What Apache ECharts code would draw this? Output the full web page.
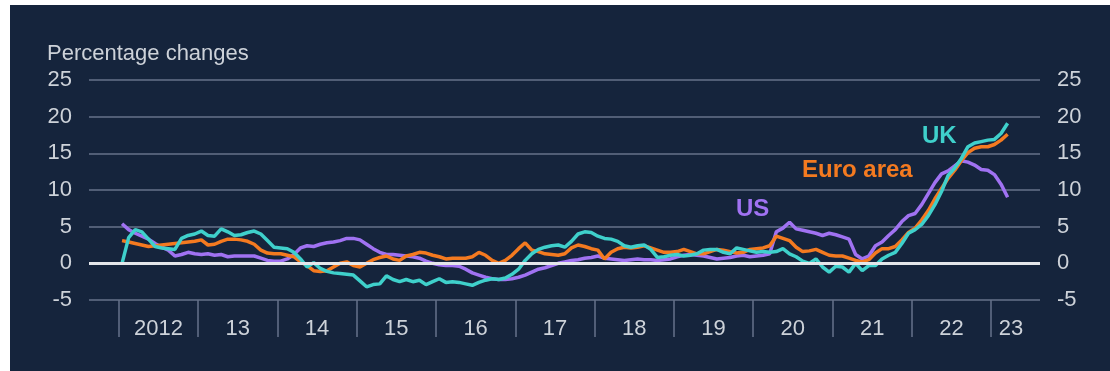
<!DOCTYPE html>
<html>
<head>
<meta charset="utf-8">
<script src="https://cdn.jsdelivr.net/npm/echarts@6/dist/echarts.min.js"></script>
<style>
  html, body { margin: 0; padding: 0; background: #ffffff; }
  #chart { position: absolute; left: 10px; top: 5px; width: 1100px; height: 366px; background: #15243c; }
</style>
</head>
<body>
<div id="chart"></div>
<script>
// monthly food price inflation, Jan 2012 .. Mar 2023
var yearLabels = ['2012', '13', '14', '15', '16', '17', '18', '19', '20', '21', '22', '23'];

var usData = [
  5.4, 4.6, 4.1, 3.7, 3.3, 2.7, 2.2, 1.8, 1.0, 1.2, 1.5, 1.3,
  1.2, 1.3, 1.1, 1.2, 0.9, 1.0, 1.0, 1.0, 1.0, 0.7, 0.4, 0.3,
  0.3, 0.6, 1.2, 2.1, 2.4, 2.3, 2.6, 2.8, 2.9, 3.1, 3.4, 3.4,
  3.2, 2.6, 2.0, 1.5, 1.2, 1.2, 1.1, 1.0, 0.9, 0.7, 0.3, 0.0,
  -0.2, -0.3, -0.3, -0.4, -0.8, -1.3, -1.6, -1.9, -2.1, -2.2, -2.2, -2.1,
  -1.9, -1.6, -1.2, -0.8, -0.6, -0.3, 0.0, 0.2, 0.4, 0.5, 0.7, 0.8,
  1.0, 0.7, 0.6, 0.5, 0.4, 0.5, 0.6, 0.5, 0.5, 0.4, 0.5, 0.6,
  0.9, 1.1, 1.2, 1.1, 1.0, 0.8, 0.6, 0.7, 0.8, 1.0, 1.1, 0.9,
  1.0, 1.1, 1.3, 4.3, 4.8, 5.6, 4.7, 4.5, 4.3, 4.1, 3.8, 4.1,
  3.9, 3.6, 3.3, 1.2, 0.6, 1.0, 2.4, 2.9, 3.8, 4.6, 5.7, 6.5,
  6.8, 8.0, 9.5, 11.0, 12.2, 12.6, 13.3, 14.0, 13.8, 13.4, 12.8, 12.7,
  12.1, 10.8, 9.0
];

var euroData = [
  3.1, 2.9, 2.7, 2.5, 2.3, 2.4, 2.5, 2.6, 2.7, 2.8, 2.9, 3.0,
  3.2, 2.5, 2.6, 3.0, 3.3, 3.3, 3.2, 3.0, 2.6, 1.8, 1.4, 1.3,
  1.3, 1.1, 0.9, 0.2, -0.3, -1.0, -1.1, -1.0, -0.5, 0.0, 0.2, -0.3,
  -0.5, 0.0, 0.5, 0.8, 1.0, 0.6, 0.4, 1.0, 1.2, 1.5, 1.4, 1.1,
  0.9, 0.6, 0.7, 0.7, 0.7, 0.9, 1.5, 1.1, 0.4, 0.0, 0.4, 1.1,
  2.0, 2.8, 1.8, 1.6, 1.3, 1.2, 1.1, 1.3, 2.1, 2.5, 2.3, 2.0,
  1.8, 0.6, 1.5, 2.0, 2.2, 2.1, 2.2, 2.4, 2.1, 1.8, 1.5, 1.5,
  1.6, 1.9, 1.6, 1.3, 1.3, 1.6, 1.9, 1.8, 1.6, 1.4, 1.5, 1.9,
  2.0, 2.1, 2.4, 3.7, 3.4, 3.1, 2.2, 1.6, 1.7, 1.9, 1.5, 1.1,
  1.0, 1.0, 0.7, 0.4, 0.2, 0.5, 1.4, 2.0, 2.0, 2.3, 3.2, 4.2,
  4.8, 5.9, 7.2, 8.8, 10.2, 11.6, 12.7, 14.0, 15.1, 15.7, 15.9, 15.9,
  16.2, 16.8, 17.6
];

var ukData = [
  0.0, 3.5, 4.6, 4.3, 3.3, 2.3, 2.1, 2.0, 1.9, 3.4, 3.8, 4.0,
  4.4, 3.8, 3.7, 4.7, 4.3, 3.8, 3.9, 4.2, 4.4, 4.0, 3.1, 2.2,
  2.1, 2.0, 1.5, 0.6, -0.5, 0.1, -0.7, -1.1, -1.3, -1.4, -1.5, -1.6,
  -2.4, -3.2, -2.9, -2.8, -1.7, -2.2, -2.5, -2.2, -2.5, -2.3, -2.9, -2.5,
  -2.1, -2.6, -2.5, -2.6, -2.8, -3.0, -2.6, -2.3, -2.1, -2.2, -2.0, -1.5,
  -0.8, 0.4, 1.3, 1.9, 2.2, 2.4, 2.5, 2.2, 3.0, 4.0, 4.3, 4.2,
  3.7, 3.4, 3.3, 3.0, 2.4, 2.2, 2.4, 2.5, 1.9, 0.8, 0.9, 1.1,
  1.2, 1.0, 1.1, 1.3, 1.8, 1.9, 1.9, 1.5, 1.3, 2.1, 1.9, 1.7,
  1.5, 1.6, 1.5, 1.6, 2.0, 1.3, 0.9, 0.3, 0.0, 0.6, -0.5, -1.2,
  -0.4, -0.5, -1.2, 0.0, -1.0, -0.3, -0.3, 0.6, 1.1, 1.5, 2.7, 4.1,
  4.6, 5.3, 6.5, 8.0, 9.8, 12.0, 13.0, 14.3, 15.9, 16.4, 16.6, 16.8,
  16.9, 17.7, 19.1
];

var textColor = '#cdd2d9';
var gridColor = '#66728a';
var fontFamily = '"Liberation Sans", Arial, sans-serif';

// x is months since Jan 2012, each point in the middle of its month
function toPoints(arr) {
  return arr.map(function (v, i) { return [i + 0.5, v]; });
}

var tickValues = yearLabels.map(function (_, k) { return k * 12; });
var labelValues = yearLabels.map(function (_, k) {
  return k < yearLabels.length - 1 ? k * 12 + 6 : k * 12 + 3;
});

var chart = echarts.init(document.getElementById('chart'));

function yAxisBase(pos) {
  return {
    type: 'value',
    position: pos,
    min: -5,
    max: 25,
    interval: 5,
    axisLine: { show: false },
    axisTick: { show: false },
    axisLabel: { color: textColor, fontSize: 22, fontFamily: fontFamily, margin: 17 },
    splitLine: { show: pos === 'left', lineStyle: { color: gridColor, width: 1.5 } }
  };
}

var option = {
  animation: false,
  grid: { left: 79, right: 70, top: 75, bottom: 71 },
  xAxis: {
    type: 'value',
    min: -4.5,
    max: 139.4,
    splitLine: { show: false },
    axisLine: { show: false, onZero: false },
    axisTick: {
      show: true,
      customValues: tickValues,
      length: 37,
      lineStyle: { color: gridColor, width: 1.5 }
    },
    axisLabel: {
      customValues: labelValues,
      color: textColor,
      fontSize: 22,
      fontFamily: fontFamily,
      margin: 18,
      formatter: function (v) { return yearLabels[Math.floor(v / 12)]; }
    }
  },
  yAxis: [yAxisBase('left'), yAxisBase('right')],
  graphic: [
    { type: 'text', left: 37, top: 38,
      style: { text: 'Percentage changes', fill: textColor, font: '22px ' + fontFamily } },
    { type: 'text', left: 912, top: 119,
      style: { text: 'UK', fill: '#3fd0cb', font: 'bold 24px ' + fontFamily } },
    { type: 'text', left: 792, top: 153,
      style: { text: 'Euro area', fill: '#f47a20', font: 'bold 24px ' + fontFamily } },
    { type: 'text', left: 726, top: 192,
      style: { text: 'US', fill: '#a072f2', font: 'bold 24px ' + fontFamily } }
  ],
  series: [
    {
      name: 'US', type: 'line', showSymbol: false, data: toPoints(usData),
      lineStyle: { color: '#a072f2', width: 3.5 },
      markLine: {
        silent: true, symbol: 'none', label: { show: false },
        lineStyle: { color: '#e4e6ea', width: 3, type: 'solid' },
        data: [{ yAxis: 0 }]
      }
    },
    {
      name: 'Euro area', type: 'line', showSymbol: false, data: toPoints(euroData),
      lineStyle: { color: '#f47a20', width: 3.5 }
    },
    {
      name: 'UK', type: 'line', showSymbol: false, data: toPoints(ukData),
      lineStyle: { color: '#3fd0cb', width: 3.5 }
    }
  ]
};

chart.setOption(option);
</script>
</body>
</html>
